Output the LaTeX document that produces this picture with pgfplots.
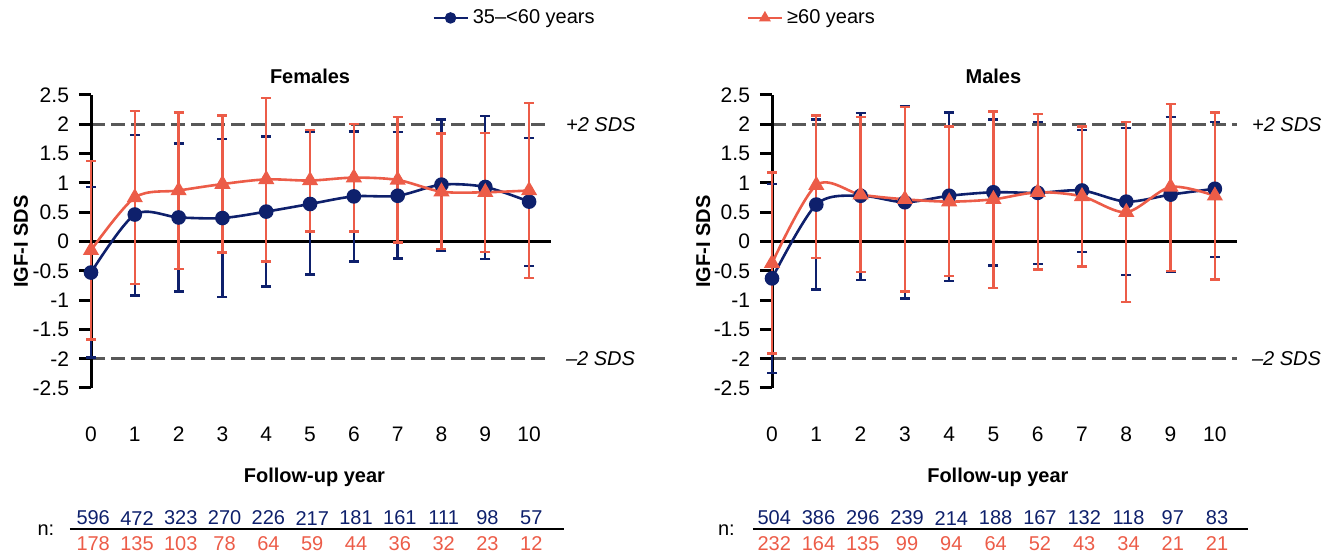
\documentclass[border=0pt]{standalone}
\usepackage{fontspec}
\setmainfont{Liberation Sans}
\usepackage{pgfplots}
\pgfplotsset{compat=1.18}
\usepackage{pgfplotstable}

\definecolor{navy}{RGB}{14,32,108}
\definecolor{coral}{RGB}{236,92,72}
\definecolor{refgray}{RGB}{88,88,88}

% x  mean  upper  lower
\pgfplotstableread{
x y hi lo
0 -0.53 0.93 -1.98
1 0.46 1.82 -0.92
2 0.41 1.67 -0.85
3 0.40 1.75 -0.95
4 0.51 1.79 -0.77
5 0.64 1.87 -0.56
6 0.77 1.88 -0.34
7 0.78 1.87 -0.29
8 0.97 2.08 -0.16
9 0.93 2.14 -0.30
10 0.68 1.77 -0.42
}\femyoung
\pgfplotstableread{
x y hi lo
0 -0.15 1.37 -1.67
1 0.75 2.23 -0.73
2 0.87 2.20 -0.47
3 0.98 2.15 -0.19
4 1.06 2.45 -0.34
5 1.04 1.90 0.17
6 1.09 2.00 0.17
7 1.05 2.12 -0.02
8 0.85 1.84 -0.13
9 0.84 1.85 -0.18
10 0.87 2.36 -0.62
}\femold
\pgfplotstableread{
x y hi lo
0 -0.63 0.98 -2.24
1 0.63 2.08 -0.82
2 0.78 2.19 -0.66
3 0.67 2.31 -0.97
4 0.78 2.20 -0.67
5 0.84 2.08 -0.41
6 0.83 2.04 -0.38
7 0.87 1.90 -0.18
8 0.68 1.94 -0.57
9 0.80 2.12 -0.51
10 0.90 2.04 -0.26
}\malyoung
\pgfplotstableread{
x y hi lo
0 -0.37 1.18 -1.91
1 0.96 2.15 -0.28
2 0.80 2.12 -0.52
3 0.72 2.29 -0.85
4 0.68 1.96 -0.59
5 0.72 2.22 -0.79
6 0.84 2.18 -0.48
7 0.77 1.96 -0.43
8 0.50 2.04 -1.03
9 0.93 2.35 -0.50
10 0.78 2.20 -0.65
}\malold

\tikzset{
  txt/.style={font=\fontsize{10}{12}\selectfont},
  nblue/.style={txt, text=navy},
  nred/.style={txt, text=coral},
}

\pgfplotsset{
  igf/.style={
    scale only axis, height=146.5pt,
    xmin=0, xmax=10.5, ymin=-2.5, ymax=2.5,
    clip=false,
    axis line style={draw=none},
    xtick={0,...,10}, ytick={-2.5,-2,...,2.5},
    tick style={draw=none},
    ytick pos=left,
    tick align=outside, major tick length=6pt,
    /pgf/number format/assume math mode=true,
    ticklabel style={font=\fontsize{10.5}{12}\selectfont},
    y tick label style={xshift=-1.5pt},
    x tick label style={anchor=center, yshift=-17pt},
  },
  errb/.style={only marks, mark=none, forget plot,
    error bars/.cd, y dir=both, y explicit,
    error bar style={color=#1, line width=1.2pt},
    error mark options={rotate=90, color=#1, line width=1.2pt, mark size=2.5pt}},
  young/.style={navy, line width=1.3pt, smooth, mark=*, mark size=3pt},
  old/.style={coral, line width=1.3pt, smooth, mark=triangle*, mark size=3.4pt},
}

% y axis line with outward ticks (tick length 0.274 x-units = 6pt)
\newcommand{\yaxis}{%
  \addplot[black, line width=1.5pt, forget plot, unbounded coords=jump] coordinates {
    (0,-2.5) (0,2.5) (nan,nan)
    (-0.274,2.5) (0,2.5) (nan,nan) (-0.274,2) (0,2) (nan,nan)
    (-0.274,1.5) (0,1.5) (nan,nan) (-0.274,1) (0,1) (nan,nan)
    (-0.274,0.5) (0,0.5) (nan,nan) (-0.274,0) (0,0) (nan,nan)
    (-0.274,-0.5) (0,-0.5) (nan,nan) (-0.274,-1) (0,-1) (nan,nan)
    (-0.274,-1.5) (0,-1.5) (nan,nan) (-0.274,-2) (0,-2) (nan,nan)
    (-0.274,-2.5) (0,-2.5)};
}

\newcommand{\refl}{%
  \addplot[refgray, line width=1.3pt, dash pattern=on 7pt off 3pt, forget plot] coordinates {(0,2) (10.5,2)};
  \addplot[refgray, line width=1.3pt, dash pattern=on 7pt off 3pt, forget plot] coordinates {(0,-2) (10.5,-2)};
  \addplot[black, line width=1.3pt, forget plot] coordinates {(0,0) (10.5,0)};
  \yaxis
  \node[anchor=west, txt, font=\itshape] at (axis cs:10.5,2) {\hspace{4pt}+2 SDS};
  \node[anchor=west, txt, font=\itshape] at (axis cs:10.5,-2) {\hspace{4pt}–2 SDS};
  \node[txt, font=\bfseries] at (axis cs:5.1,-4.02) {Follow-up year};
  \node[txt] at (axis cs:-1.03,-4.93) {n:};
}

\newcommand{\nrow}[3]{%
  \foreach \i/\n in {#3}{%
    \edef\tmp{\noexpand\node[#1] at (axis cs:\i+0.05,#2) {\n};}\tmp}}

\begin{document}
\begin{tikzpicture}
\path[use as bounding box] (0,0) rectangle (666.5pt,277.5pt);

\begin{axis}[igf, at={(45.5pt,83.5pt)}, anchor=south west, width=230pt,
  ylabel={IGF-I SDS},
  every axis y label/.style={at={(axis description cs:-0.152,0.5)}, rotate=90, anchor=center,
    font=\fontsize{10}{12}\selectfont\bfseries},
  legend style={at={(axis description cs:0.741,1.263)}, anchor=west, draw=none, fill=none,
    inner sep=0pt, legend columns=2, font=\fontsize{10}{12}\selectfont,
    /tikz/every even column/.append style={column sep=74pt}},
  legend cell align=left,
  legend image code/.code={\draw[#1, mark size=2.2pt, mark repeat=2, mark phase=2]
    plot coordinates {(0pt,0pt) (8.5pt,0pt) (17pt,0pt)};}]
\refl
\node[txt, font=\bfseries] at (axis cs:5,2.81) {Females};
\addplot[errb=navy] table[x=x, y=y, y error plus expr=\thisrow{hi}-\thisrow{y}, y error minus expr=\thisrow{y}-\thisrow{lo}] {\femyoung};
\addplot[errb=coral] table[x=x, y=y, y error plus expr=\thisrow{hi}-\thisrow{y}, y error minus expr=\thisrow{y}-\thisrow{lo}] {\femold};
\addplot[young] table[x=x, y=y] {\femyoung};
\addlegendentry{35–<60 years}
\addplot[old] table[x=x, y=y] {\femold};
\addlegendentry{≥60 years}
\draw[black, line width=1pt] (axis cs:-0.48,-4.91) -- (axis cs:10.8,-4.91);
\nrow{nblue}{-4.72}{0/596,1/472,2/323,3/270,4/226,5/217,6/181,7/161,8/111,9/98,10/57}
\nrow{nred}{-5.15}{0/178,1/135,2/103,3/78,4/64,5/59,6/44,7/36,8/32,9/23,10/12}
\end{axis}

\begin{axis}[igf, at={(386pt,83.5pt)}, anchor=south west, width=232.5pt,
  ylabel={IGF-I SDS},
  every axis y label/.style={at={(axis description cs:-0.148,0.5)}, rotate=90, anchor=center,
    font=\fontsize{10}{12}\selectfont\bfseries}]
\refl
\node[txt, font=\bfseries] at (axis cs:5,2.81) {Males};
\addplot[errb=navy] table[x=x, y=y, y error plus expr=\thisrow{hi}-\thisrow{y}, y error minus expr=\thisrow{y}-\thisrow{lo}] {\malyoung};
\addplot[errb=coral] table[x=x, y=y, y error plus expr=\thisrow{hi}-\thisrow{y}, y error minus expr=\thisrow{y}-\thisrow{lo}] {\malold};
\addplot[young] table[x=x, y=y] {\malyoung};
\addplot[old] table[x=x, y=y] {\malold};
\draw[black, line width=1pt] (axis cs:-0.43,-4.91) -- (axis cs:10.75,-4.91);
\nrow{nblue}{-4.72}{0/504,1/386,2/296,3/239,4/214,5/188,6/167,7/132,8/118,9/97,10/83}
\nrow{nred}{-5.15}{0/232,1/164,2/135,3/99,4/94,5/64,6/52,7/43,8/34,9/21,10/21}
\end{axis}
\end{tikzpicture}
\end{document}
